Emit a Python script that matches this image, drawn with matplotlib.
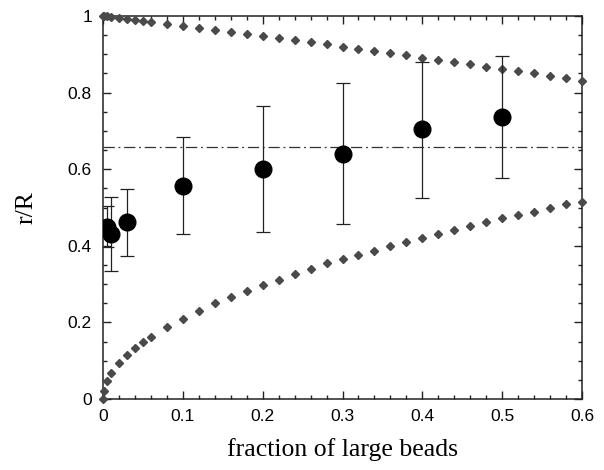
import matplotlib
matplotlib.use("Agg")
import matplotlib.pyplot as plt
from matplotlib.ticker import MultipleLocator
import numpy as np

# diamond curves (bounds)
x_curve = [0, 0.001, 0.005, 0.01, 0.02, 0.03, 0.04, 0.05, 0.06, 0.08, 0.10, 0.12,
           0.14, 0.16, 0.18, 0.20, 0.22, 0.24, 0.26, 0.28, 0.30, 0.32, 0.34, 0.36,
           0.38, 0.40, 0.42, 0.44, 0.46, 0.48, 0.50, 0.52, 0.54, 0.56, 0.58, 0.60]
upper = [1.0, 1.0, 0.999, 0.998, 0.995, 0.991, 0.989, 0.986, 0.984, 0.978, 0.974, 0.968,
         0.963, 0.959, 0.954, 0.949, 0.943, 0.937, 0.931, 0.926, 0.920, 0.914, 0.908, 0.903,
         0.897, 0.891, 0.884, 0.879, 0.874, 0.868, 0.862, 0.856, 0.850, 0.843, 0.837, 0.830]
lower = [0.0, 0.021, 0.046, 0.067, 0.093, 0.115, 0.132, 0.148, 0.163, 0.188, 0.210, 0.231,
         0.250, 0.266, 0.282, 0.298, 0.312, 0.326, 0.339, 0.354, 0.366, 0.377, 0.387, 0.399,
         0.410, 0.420, 0.431, 0.442, 0.452, 0.462, 0.472, 0.480, 0.489, 0.500, 0.508, 0.514]

# measured points
x_meas = [0.005, 0.01, 0.03, 0.1, 0.2, 0.3, 0.4, 0.5]
y_meas = [0.450, 0.430, 0.461, 0.556, 0.600, 0.640, 0.704, 0.736]
y_hi = [0.505, 0.527, 0.548, 0.685, 0.765, 0.826, 0.881, 0.896]
y_lo = [0.398, 0.334, 0.373, 0.430, 0.437, 0.457, 0.526, 0.578]

ref_level = 0.657

fig = plt.figure(figsize=(6.04, 4.70), dpi=100)
ax = fig.add_axes([103 / 604, 1 - 399 / 470, 479 / 604, 383 / 470])

ax.plot(x_curve, upper, ls="none", marker="D", ms=4.2, color="#4a4a4a", clip_on=False, zorder=3)
ax.plot(x_curve, lower, ls="none", marker="D", ms=4.2, color="#4a4a4a", clip_on=False, zorder=3)

ax.plot([0, 0.6], [ref_level, ref_level], color="#333333", lw=0.9, ls=(0, (9, 3, 1.5, 3)), zorder=2)

yerr = np.array([np.array(y_meas) - np.array(y_lo), np.array(y_hi) - np.array(y_meas)])
ax.errorbar(x_meas, y_meas, yerr=yerr, fmt="o", ms=12, color="black", ecolor="#222222",
            elinewidth=0.9, capsize=4.8, capthick=0.9, zorder=4)

ax.set_xlim(0, 0.6)
ax.set_ylim(0, 1)
ax.xaxis.set_minor_locator(MultipleLocator(0.02))
ax.yaxis.set_minor_locator(MultipleLocator(0.05))
ax.set_xticks([0, 0.1, 0.2, 0.3, 0.4, 0.5, 0.6])
ax.set_xticklabels(["0", "0.1", "0.2", "0.3", "0.4", "0.5", "0.6"])
ax.set_yticks([0, 0.2, 0.4, 0.6, 0.8, 1.0])
ax.set_yticklabels(["0", "0.2", "0.4", "0.6", "0.8", "1"])

ax.tick_params(which="both", direction="in", top=True, right=True, width=1.0, color="#222222")
ax.tick_params(which="major", length=5.8, labelsize=12.5)
ax.tick_params(axis="x", which="major", pad=7)
ax.tick_params(axis="y", which="major", pad=8)
ax.tick_params(which="minor", length=3.2)
for lab in ax.get_xticklabels() + ax.get_yticklabels():
    lab.set_family("Liberation Sans")
for s in ax.spines.values():
    s.set_linewidth(1.1)
    s.set_color("#222222")

ax.set_xlabel("fraction of large beads", family="Liberation Serif", fontsize=18.5, labelpad=10)
ax.set_ylabel("r/R", family="Liberation Serif", fontsize=18.5, labelpad=22)

fig.savefig("out.png", dpi=100)
